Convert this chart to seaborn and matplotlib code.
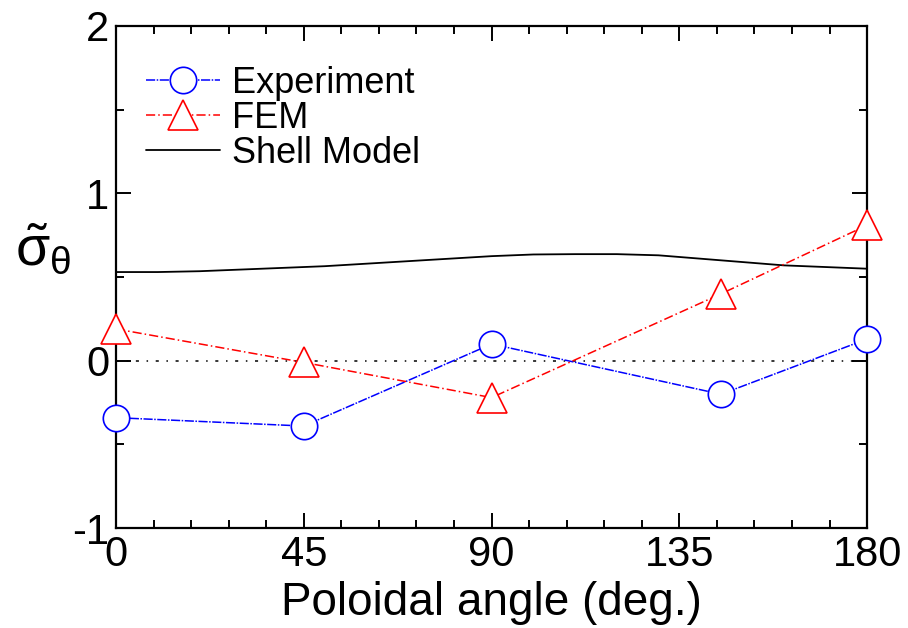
import numpy as np
import pandas as pd
import seaborn as sns
import matplotlib.pyplot as plt
from matplotlib.ticker import MultipleLocator

# data
exp_angle = [0, 45, 90, 145, 180]
exp_sigma = [-0.34, -0.39, 0.10, -0.20, 0.13]

fem_angle = [0, 45, 90, 145, 180]
fem_sigma = [0.19, -0.01, -0.22, 0.40, 0.81]

shell_angle = [0, 10, 20, 30, 40, 50, 60, 70, 80, 90, 100, 110, 120, 130, 140, 150, 160, 170, 180]
shell_sigma = [0.53, 0.53, 0.535, 0.545, 0.555, 0.565, 0.58, 0.595, 0.61, 0.625,
               0.635, 0.637, 0.637, 0.63, 0.61, 0.59, 0.57, 0.56, 0.55]

x_ticks = [0, 45, 90, 135, 180]
y_ticks = [-1, 0, 1, 2]

sns.set_style("ticks")
plt.rcParams['font.family'] = ['Liberation Sans', 'DejaVu Sans']
plt.rcParams['mathtext.fontset'] = 'dejavusans'
plt.rcParams['mathtext.default'] = 'regular'
plt.rcParams['axes.unicode_minus'] = False
plt.rcParams['text.color'] = 'black'
plt.rcParams['axes.labelcolor'] = 'black'
plt.rcParams['xtick.color'] = 'black'
plt.rcParams['ytick.color'] = 'black'

exp_df = pd.DataFrame({"angle": exp_angle, "sigma": exp_sigma})
fem_df = pd.DataFrame({"angle": fem_angle, "sigma": fem_sigma})
shell_df = pd.DataFrame({"angle": shell_angle, "sigma": shell_sigma})

fig = plt.figure(figsize=(9.08, 6.28), dpi=100)
ax = fig.add_axes([0.1278, 0.159, 0.8272, 0.7996])

# dotted zero reference
ax.axhline(0, color="black", lw=1.1, linestyle=(0, (2, 5, 1, 5)), zorder=1)

sns.lineplot(data=exp_df, x="angle", y="sigma", ax=ax, color="blue",
             linestyle=(0, (6, 1, 1, 1)), lw=1.1, marker="o", markersize=19,
             markerfacecolor="white", markeredgecolor="blue", markeredgewidth=1.2,
             label="Experiment", zorder=3, clip_on=False)
sns.lineplot(data=fem_df, x="angle", y="sigma", ax=ax, color="red",
             linestyle=(0, (6, 2, 1, 2)), lw=1.1, marker="^", markersize=21,
             markerfacecolor="white", markeredgecolor="red", markeredgewidth=1.2,
             label="FEM", zorder=3, clip_on=False)
sns.lineplot(data=shell_df, x="angle", y="sigma", ax=ax, color="black",
             lw=1.3, label="Shell Model", zorder=2)

ax.set_xlim(0, 180)
ax.set_ylim(-1, 2)
ax.set_xticks(x_ticks)
ax.set_yticks(y_ticks)
ax.xaxis.set_minor_locator(MultipleLocator(9))
ax.yaxis.set_minor_locator(MultipleLocator(0.5))
ax.tick_params(which="both", direction="in", top=True, right=True, width=1.4,
               labelsize=30, color="black")
ax.tick_params(which="major", length=11, pad=5)
ax.tick_params(which="minor", length=6)
for s in ax.spines.values():
    s.set_linewidth(1.6)
    s.set_color("black")

ax.set_xlabel("Poloidal angle (deg.)", fontsize=33, labelpad=4)
ax.set_ylabel(r"$\tilde{\sigma}_\theta$", fontsize=40, rotation=0)
ax.yaxis.set_label_coords(-0.097, 0.50)

ax.legend(loc="upper left", bbox_to_anchor=(0.02, 0.95), frameon=False,
          fontsize=26, handlelength=2.05, handletextpad=0.35, labelspacing=0.0,
          borderaxespad=0)

fig.savefig("out.png", dpi=100)
